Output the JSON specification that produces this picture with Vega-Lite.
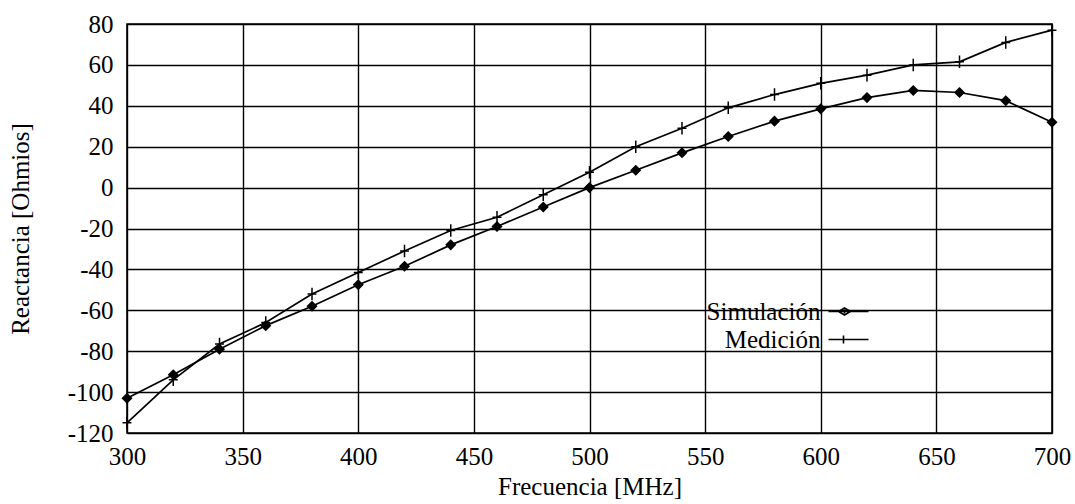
{
  "$schema": "https://vega.github.io/schema/vega-lite/v6.json",
  "autosize": "none",
  "width": 925,
  "height": 409,
  "padding": {"left": 127, "top": 24, "right": 23, "bottom": 71},
  "background": "white",
  "title": {
    "text": "Figura 2.10 : Reactancia de MONS",
    "font": "Liberation Serif",
    "fontSize": 25,
    "fontWeight": "normal",
    "color": "black",
    "offset": 15,
    "anchor": "middle"
  },
  "config": {
    "font": "Liberation Serif",
    "view": {"stroke": "black", "strokeWidth": 1.6},
    "axis": {
      "labelFont": "Liberation Serif",
      "titleFont": "Liberation Serif",
      "labelColor": "black",
      "titleColor": "black",
      "labelFontSize": 25,
      "titleFontSize": 25,
      "labelFontWeight": "normal",
      "titleFontWeight": "normal",
      "gridColor": "black",
      "gridOpacity": 1,
      "gridWidth": 1.4,
      "domain": false,
      "ticks": false,
      "labelFlush": false
    }
  },
  "data": {
    "values": [
      {"frecuencia": 300, "serie": "Simulación", "reactancia": -103},
      {"frecuencia": 320, "serie": "Simulación", "reactancia": -91.5},
      {"frecuencia": 340, "serie": "Simulación", "reactancia": -79},
      {"frecuencia": 360, "serie": "Simulación", "reactancia": -67.5},
      {"frecuencia": 380, "serie": "Simulación", "reactancia": -58},
      {"frecuencia": 400, "serie": "Simulación", "reactancia": -47.5},
      {"frecuencia": 420, "serie": "Simulación", "reactancia": -38.5},
      {"frecuencia": 440, "serie": "Simulación", "reactancia": -28},
      {"frecuencia": 460, "serie": "Simulación", "reactancia": -19},
      {"frecuencia": 480, "serie": "Simulación", "reactancia": -9.5},
      {"frecuencia": 500, "serie": "Simulación", "reactancia": 0},
      {"frecuencia": 520, "serie": "Simulación", "reactancia": 8.5},
      {"frecuencia": 540, "serie": "Simulación", "reactancia": 17},
      {"frecuencia": 560, "serie": "Simulación", "reactancia": 25},
      {"frecuencia": 580, "serie": "Simulación", "reactancia": 32.5},
      {"frecuencia": 600, "serie": "Simulación", "reactancia": 38.5},
      {"frecuencia": 620, "serie": "Simulación", "reactancia": 44},
      {"frecuencia": 640, "serie": "Simulación", "reactancia": 47.5},
      {"frecuencia": 660, "serie": "Simulación", "reactancia": 46.5},
      {"frecuencia": 680, "serie": "Simulación", "reactancia": 42.5},
      {"frecuencia": 700, "serie": "Simulación", "reactancia": 32},
      {"frecuencia": 300, "serie": "Medición", "reactancia": -115},
      {"frecuencia": 320, "serie": "Medición", "reactancia": -94},
      {"frecuencia": 340, "serie": "Medición", "reactancia": -76.5},
      {"frecuencia": 360, "serie": "Medición", "reactancia": -66},
      {"frecuencia": 380, "serie": "Medición", "reactancia": -52},
      {"frecuencia": 400, "serie": "Medición", "reactancia": -41.5},
      {"frecuencia": 420, "serie": "Medición", "reactancia": -31},
      {"frecuencia": 440, "serie": "Medición", "reactancia": -21},
      {"frecuencia": 460, "serie": "Medición", "reactancia": -14.5},
      {"frecuencia": 480, "serie": "Medición", "reactancia": -3.5},
      {"frecuencia": 500, "serie": "Medición", "reactancia": 7.5},
      {"frecuencia": 520, "serie": "Medición", "reactancia": 20},
      {"frecuencia": 540, "serie": "Medición", "reactancia": 29},
      {"frecuencia": 560, "serie": "Medición", "reactancia": 39},
      {"frecuencia": 580, "serie": "Medición", "reactancia": 45.5},
      {"frecuencia": 600, "serie": "Medición", "reactancia": 51},
      {"frecuencia": 620, "serie": "Medición", "reactancia": 55},
      {"frecuencia": 640, "serie": "Medición", "reactancia": 60},
      {"frecuencia": 660, "serie": "Medición", "reactancia": 61.5},
      {"frecuencia": 680, "serie": "Medición", "reactancia": 71},
      {"frecuencia": 700, "serie": "Medición", "reactancia": 77}
    ]
  },
  "encoding": {
    "x": {
      "field": "frecuencia",
      "type": "quantitative",
      "scale": {"domain": [300, 700], "nice": false, "zero": false},
      "axis": {
        "values": [300, 350, 400, 450, 500, 550, 600, 650, 700],
        "title": "Frecuencia [MHz]",
        "labelExpr": "'' + datum.value",
        "labelPadding": 11,
        "titlePadding": 5
      }
    },
    "y": {
      "field": "reactancia",
      "type": "quantitative",
      "scale": {"domain": [-120, 80], "nice": false, "zero": false},
      "axis": {
        "values": [-120, -100, -80, -60, -40, -20, 0, 20, 40, 60, 80],
        "title": "Reactancia [Ohmios]",
        "labelExpr": "'' + datum.value",
        "labelPadding": 14,
        "titlePadding": 34
      }
    }
  },
  "resolve": {"scale": {"shape": "independent"}},
  "layer": [
    {
      "mark": {"type": "line", "color": "black", "strokeWidth": 1.7},
      "encoding": {"detail": {"field": "serie"}}
    },
    {
      "mark": {"type": "point", "filled": true, "color": "black", "stroke": "black", "strokeWidth": 1.5, "size": 80, "opacity": 1},
      "encoding": {
        "shape": {
          "field": "serie",
          "type": "nominal",
          "scale": {"domain": ["Simulación", "Medición"], "range": ["diamond", "M-1,0L1,0M0,-1.4L0,1.4"]},
          "legend": null
        }
      }
    },
    {
      "transform": [{"filter": "false"}],
      "mark": {"type": "point", "filled": false, "color": "black", "strokeWidth": 1.6, "opacity": 1},
      "encoding": {
        "shape": {
          "field": "serie",
          "type": "nominal",
          "scale": {"domain": ["Simulación", "Medición"], "range": ["M-2,0L2,0M-0.4,-0.35L0.2,0L-0.4,0.35L-1,0ZM-0.4,-0.2L-0.4,0.2M-0.75,0L-0.05,0", "M-2,0L2,0M-0.5,-0.4L-0.5,0.4"]},
          "legend": {
            "orient": "none",
            "legendX": 709,
            "legendY": 275,
            "title": null,
            "padding": 0,
            "rowPadding": 2,
            "labelFont": "Liberation Serif",
            "labelFontSize": 25,
            "labelFontWeight": "normal",
            "labelColor": "black",
            "labelLimit": 300,
            "labelAlign": "right",
            "labelOffset": -40.5,
            "symbolSize": 400,
            "symbolStrokeWidth": 1.6,
            "symbolStrokeColor": "black",
            "symbolOpacity": 1
          }
        }
      }
    }
  ]
}
